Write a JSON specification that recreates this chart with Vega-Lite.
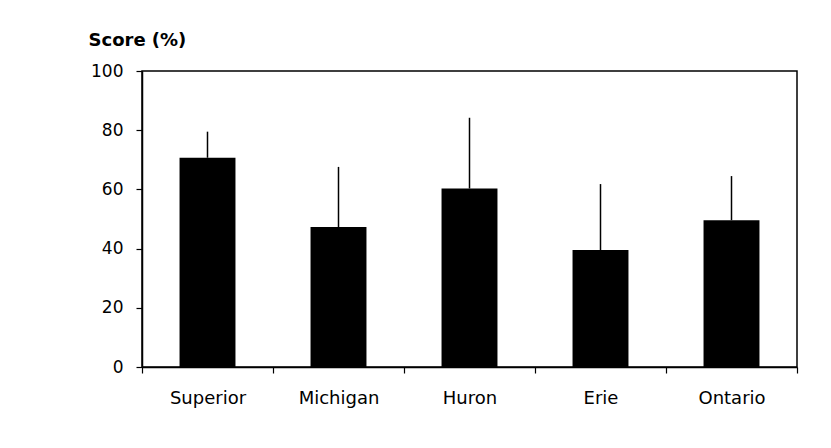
{
  "$schema": "https://vega.github.io/schema/vega-lite/v6.json",
  "autosize": {"type": "none"},
  "width": 655,
  "height": 296,
  "padding": {"left": 142, "top": 71, "right": 34, "bottom": 81},
  "background": "white",
  "config": {
    "font": "DejaVu Sans",
    "view": {"stroke": "black", "strokeWidth": 1.5},
    "axis": {"grid": false, "domainColor": "black", "domainWidth": 1.5, "tickColor": "black", "tickWidth": 1.2, "labelColor": "black", "titleColor": "black"}
  },
  "data": {
    "values": [
      {"lake": "Superior", "score": 70.7, "upper": 79.5},
      {"lake": "Michigan", "score": 47.3, "upper": 67.6},
      {"lake": "Huron", "score": 60.3, "upper": 84.2},
      {"lake": "Erie", "score": 39.5, "upper": 61.8},
      {"lake": "Ontario", "score": 49.6, "upper": 64.5}
    ]
  },
  "encoding": {
    "x": {
      "field": "lake", "type": "nominal", "sort": null,
      "scale": {"paddingInner": 0, "paddingOuter": 0},
      "axis": {"title": null, "labelAngle": 0, "labelFontSize": 18, "labelPadding": 16, "tickSize": 6, "tickBand": "extent"}
    }
  },
  "layer": [
    {
      "mark": {"type": "rule", "color": "black", "strokeWidth": 1.5},
      "encoding": {
        "y": {"field": "score", "type": "quantitative"},
        "y2": {"field": "upper"}
      }
    },
    {
      "mark": {"type": "bar", "color": "black", "width": {"band": 0.427}},
      "encoding": {
        "y": {
          "field": "score", "type": "quantitative",
          "scale": {"domain": [0, 100], "nice": false},
          "axis": {
            "values": [0, 20, 40, 60, 80, 100],
            "title": "Score (%)", "titleAngle": 0, "titleAlign": "left", "titleBaseline": "alphabetic",
            "titleX": -54, "titleY": -26, "titleFontSize": 18, "titleFontWeight": "bold",
            "labelFontSize": 17, "labelPadding": 13, "tickSize": 6
          }
        }
      }
    }
  ]
}
